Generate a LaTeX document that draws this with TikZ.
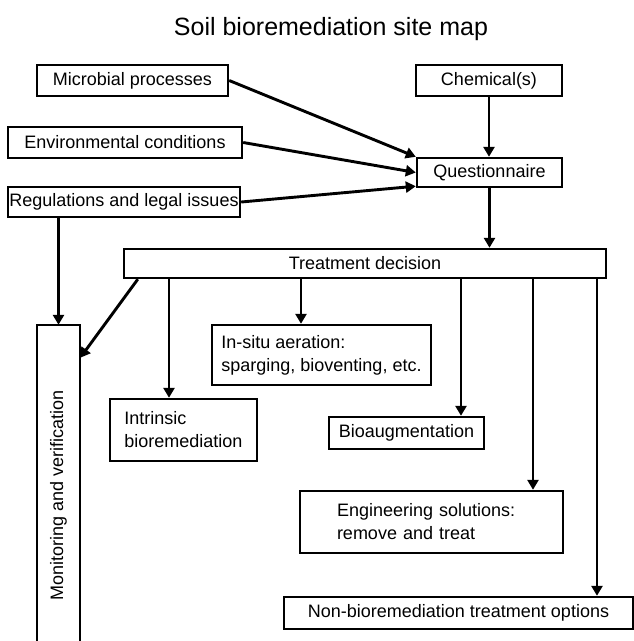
\documentclass[tikz,border=0pt]{standalone}
\usepackage{fontspec}
\setmainfont{Liberation Sans}
\usetikzlibrary{arrows.meta}
\begin{document}
\begin{tikzpicture}[x=1pt,y=-1pt,
  box/.style={draw, line width=2.4pt, inner sep=0pt, align=left,
    font=\fontsize{18}{23}\selectfont},
  frame/.style={line width=2.4pt},
  arr/.style={line width=2.9pt, -{Triangle[length=10pt,width=11pt]}}]
\useasboundingbox (0,0) rectangle (634,641);
\coordinate (bot) at (0,641);

% title
\node[font=\fontsize{25}{30}\selectfont, anchor=base] (title) at (331,35)
  {Soil bioremediation site map};

% input boxes
\node[box, minimum width=191, minimum height=31] (mic)  at (132.5,80.5) {Microbial processes};
\node[box, minimum width=146, minimum height=31] (chem) at (489,80.5)   {Chemical(s)};
\node[box, minimum width=234, minimum height=31] (env)  at (125,142.5)  {Environmental conditions};
\node[box, minimum width=232, minimum height=30] (reg)  at (124,202)    {Regulations and legal issues};
\node[box, minimum width=145, minimum height=29] (q)    at (489.5,172.5){Questionnaire};

% decision and options
\node[box, minimum width=482, minimum height=29] (treat) at (365,263.5) {Treatment decision};
\node[box, minimum width=219, minimum height=60] (situ)  at (321.5,355)
  {In-situ aeration:\\sparging, bioventing, etc.};
\node[box, minimum width=147, minimum height=62] (intr)  at (183.5,430)
  {Intrinsic\\bioremediation};
\node[box, minimum width=155, minimum height=32] (bio)   at (406.5,433) {Bioaugmentation};
\node[box, text width=189pt, inner xsep=37pt, minimum height=62] (eng) at (431.5,522)
  {Engineering solutions:\\remove and treat};
\node[box, align=center, minimum width=349, minimum height=32] (non) at (458.5,613)
  {Non-bioremediation treatment options};

% monitoring column, open at the bottom
\node[minimum width=43, minimum height=340, inner sep=0pt,
  font=\fontsize{18}{23}\selectfont] (mon) at (58.5,495)
  {\rotatebox{90}{Monitoring and verification}};
\draw[frame] (mon.north west |- bot) -- (mon.north west) -- (mon.north east) -- (mon.north east |- bot);

% connectors
\draw[arr] (mic.east) -- (q.north west);
\draw[arr] (env.east) -- (q.west);
\draw[arr] (reg.east) -- ([yshift=2pt]q.south west);
\draw[arr] (chem.south) -- (chem.south |- q.north);
\draw[arr] (q.south) -- (q.south |- treat.north);
\draw[arr] (mon.north |- reg.south) -- (mon.north);
\draw[arr] ([xshift=15pt]treat.south west) -- ([yshift=-33pt]mon.north east);

\coordinate (intrIn) at ([xshift=-14.5pt]intr.north);
\coordinate (situIn) at ([xshift=-20.5pt]situ.north);
\coordinate (bioIn)  at ([xshift=54.5pt]bio.north);
\coordinate (engIn)  at ([xshift=101.5pt]eng.north);
\coordinate (nonIn)  at ([xshift=138.5pt]non.north);
\foreach \t in {intrIn,situIn,bioIn,engIn,nonIn}
  \draw[arr] (\t |- treat.south) -- (\t);
\end{tikzpicture}
\end{document}
